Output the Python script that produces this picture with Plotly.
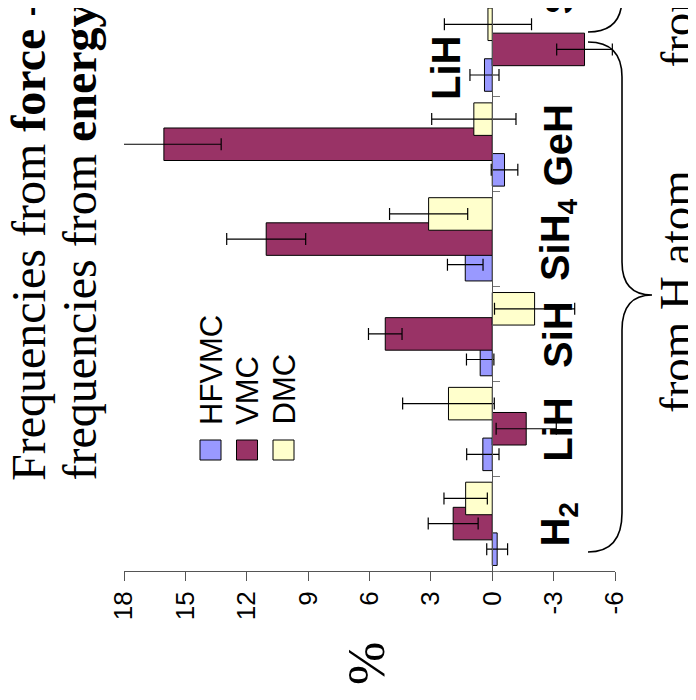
import plotly.graph_objects as go

# ---------------- data ----------------
categories = ["H<sub>2</sub>", "LiH", "SiH", "SiH<sub>4</sub>", "GeH", "LiH"]
next_category = "SiH"          # partly cut off at the top of the picture
series_names = ["HFVMC", "VMC", "DMC"]
hfvmc = [-0.24, 0.46, 0.59, 1.32, -0.60, 0.38]
hfvmc_err = [0.51, 0.79, 0.67, 0.87, 0.65, 0.71]
vmc = [1.91, -1.66, 5.23, 11.05, 16.05, -4.51]
vmc_err = [1.22, 1.47, 0.82, 1.93, 2.80, 1.36]
dmc = [1.30, 2.14, -2.07, 3.11, 0.90, 0.21]
dmc_err = [1.06, 2.24, 1.96, 1.91, 2.06, 2.13]
value_ticks = [18, 15, 12, 9, 6, 3, 0, -3, -6]
title_lines = ["Frequencies from <b>force</b> -", "frequencies from <b>energy</b>"]
group_labels = ["from H atom", "from heavy atom"]
axis_title = "%"

# ---------------- styles / layout ----------------
colors = ["#9999FF", "#993366", "#FFFFCC"]
OFF = 8                      # the page body adds an 8px margin around the figure
W, H = 696 - OFF, 700 - OFF
PLOT_LEFT, PLOT_RIGHT, PLOT_BOTTOM = 124, 615, 571   # in page pixels
L = PLOT_LEFT - OFF
R = W - (PLOT_RIGHT - OFF)
T = 0
B = H - (PLOT_BOTTOM - OFF)
PW, PH = W - L - R, H - T - B
SLOT = 94.83
SANS = "Liberation Sans, Arial, sans-serif"
SERIF = "Liberation Serif, Times New Roman, serif"


def px(x):
    """page pixel x -> paper x"""
    return (x - OFF - L) / PW


def py(y):
    """page pixel y -> paper y"""
    return (PLOT_BOTTOM - y) / PH


positions = list(range(len(categories)))
bar_w = 0.343
centers = [-0.27, 0.0, 0.265]

fig = go.Figure()
for name, vals, errs, col, c in zip(series_names, [hfvmc, vmc, dmc],
                                    [hfvmc_err, vmc_err, dmc_err], colors, centers):
    fig.add_trace(go.Bar(
        x=vals, y=positions, orientation="h", name=name,
        width=bar_w, offset=c - bar_w / 2,
        marker=dict(color=col, line=dict(color="black", width=1)),
        error_x=dict(type="data", array=errs, symmetric=True,
                     color="black", thickness=1.2, width=6),
        showlegend=False,
    ))

annotations = []
shapes = []


def ann(text, x, y, font, xanchor="center", yanchor="middle", yref="paper", **kw):
    d = dict(text=text, xref="paper", yref=yref, x=x, y=y, textangle=-90,
             showarrow=False, xanchor=xanchor, yanchor=yanchor, font=font)
    d.update(kw)
    annotations.append(d)


lab_font = dict(family=SANS, size=40, color="black")
# category labels
for i, lab in enumerate(categories):
    if i == len(categories) - 1:
        ann("<b>%s</b>" % lab, px(446), py(68), lab_font)
    else:
        ann("<b>%s</b>" % lab, px(558), i, lab_font, yref="y", yshift=-1)
ann("<b>%s</b>" % next_category, px(558), py(17), lab_font, yanchor="bottom")

# title
for line, xc in zip(title_lines, [28, 79]):
    ann(line, px(xc), py(483), dict(family=SERIF, size=48, color="black"), yanchor="bottom")

# axis title
ann(axis_title, px(366), py(664), dict(family=SERIF, size=52, color="black"))

# group labels
ann(group_labels[0], px(676), py(292), dict(family=SERIF, size=47, color="black"))
ann(group_labels[1], px(676), py(70), dict(family=SERIF, size=47, color="black"),
    yanchor="bottom")

# legend (drawn rotated like the rest of the chart)
for k, (name, col) in enumerate(zip(series_names, colors)):
    x0 = 200 + 36.5 * k
    shapes.append(dict(type="rect", xref="paper", yref="paper",
                       x0=px(x0), x1=px(x0 + 21), y0=py(460), y1=py(440),
                       fillcolor=col, line=dict(color="black", width=1)))
    ann(name, px(x0 + 11), py(427), dict(family=SANS, size=31, color="black"),
        yanchor="bottom")


def brace_path(cmds):
    out = []
    for c in cmds:
        if isinstance(c, str):
            out.append(c)
        else:
            out.append("%.5f,%.5f" % (px(c[0]), py(c[1])))
    return " ".join(out)


brace1 = brace_path(["M", (588, 552), "Q", (622, 552), (622, 513), "L", (622, 330),
                     "Q", (622, 295), (652, 295), "Q", (622, 295), (622, 262),
                     "L", (622, 77), "Q", (622, 42), (588, 42)])
brace2 = brace_path(["M", (588, 32), "Q", (622, 32), (622, -2), "L", (622, -80)])
for p in (brace1, brace2):
    shapes.append(dict(type="path", xref="paper", yref="paper", path=p,
                       line=dict(color="black", width=1.6)))

n = len(categories)
top_val = n - 0.5 - (OFF - 2) / SLOT
fig.update_layout(
    width=W, height=H,
    margin=dict(l=L, r=R, t=T, b=B, pad=0),
    paper_bgcolor="white", plot_bgcolor="white",
    barmode="overlay",
    showlegend=False,
    xaxis=dict(range=[value_ticks[0], value_ticks[-1]], tickvals=value_ticks,
               ticktext=[str(v) for v in value_ticks], tickangle=-90,
               ticks="outside", ticklen=9, tickcolor="#555", tickwidth=1,
               showline=True, linecolor="#555", linewidth=1,
               showgrid=False, zeroline=False, automargin=False,
               tickfont=dict(family=SANS, size=26, color="black")),
    yaxis=dict(range=[-0.5, top_val], anchor="free",
               position=(0 - value_ticks[0]) / (value_ticks[-1] - value_ticks[0]),
               side="right", tickvals=[i - 0.5 for i in range(n + 1)],
               ticks="outside", ticklen=7, tickcolor="#777",
               showticklabels=False, showline=True, linecolor="#555", linewidth=1,
               showgrid=False, zeroline=False, automargin=False),
    annotations=annotations, shapes=shapes,
)

fig.write_html("out.html")
